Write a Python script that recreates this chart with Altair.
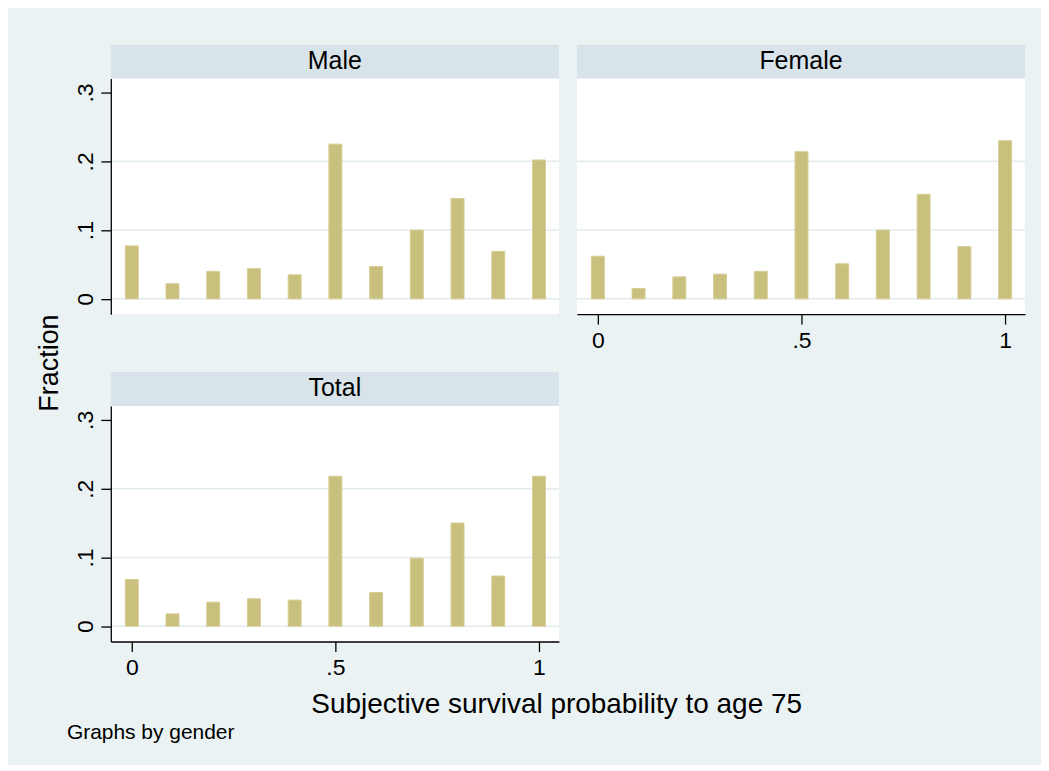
import altair as alt
import pandas as pd

# ---- data ----
probs = [0.0, 0.1, 0.2, 0.3, 0.4, 0.5, 0.6, 0.7, 0.8, 0.9, 1.0]
male = [0.077, 0.022, 0.040, 0.044, 0.035, 0.225, 0.047, 0.100, 0.146, 0.069, 0.202]
female = [0.062, 0.015, 0.032, 0.036, 0.040, 0.214, 0.051, 0.100, 0.152, 0.076, 0.230]
total = [0.068, 0.018, 0.035, 0.040, 0.038, 0.218, 0.049, 0.099, 0.150, 0.073, 0.218]
panel_names = ["Male", "Female", "Total"]
y_ticks = [0, 0.1, 0.2, 0.3]
grid_vals = [0, 0.1, 0.2]
x_ticks = [0, 0.5, 1]
x_title = "Subjective survival probability to age 75"
y_title = "Fraction"
note = "Graphs by gender"

# ---- style ----
W, H = 449, 236
HEADER = 34
FONT = "Liberation Sans"
BAR = "#cac07e"
BAR_EDGE = "#d6cd96"
BG = "#eaf2f3"
STRIP = "#d9e4ea"
GRID = "#e2ecee"

xscale = alt.Scale(domain=[-0.0515, 1.049], nice=False, zero=False, padding=0)
yscale = alt.Scale(domain=[-0.0222, 0.3203], nice=False, zero=False, padding=0)

common_axis = dict(
    title=None, grid=False, tickSize=10, labelFontSize=23, labelFont=FONT,
    domainColor="black", tickColor="black", labelColor="black",
    domainWidth=1.3, tickWidth=1.3, labelFlush=False, labelOverlap=False,
    zindex=2,
)
x_axis = alt.Axis(
    values=x_ticks, labelPadding=5,
    labelExpr="datum.value == 0 || datum.value == 1 ? format(datum.value, 'd') : '.' + format(datum.value * 10, '.0f')",
    **common_axis,
)
y_axis = alt.Axis(
    values=y_ticks, labelPadding=8, labelAngle=270, labelAlign="center",
    labelBaseline="alphabetic",
    labelExpr="datum.value == 0 ? '0' : '.' + format(datum.value * 10, '.0f')",
    **common_axis,
)


def text_layer(txt, x, y, size, angle=0, align="center", baseline="alphabetic"):
    kw = dict(font=FONT, fontSize=size, color="black", align=align, baseline=baseline)
    if angle:
        kw["angle"] = angle
    return alt.Chart(pd.DataFrame({"t": [txt]})).mark_text(**kw).encode(
        x=alt.value(x), y=alt.value(y), text="t:N"
    )


def panel(name, fracs, show_x, show_y, first=False, extras=()):
    layers = []
    if first:
        frame = alt.Chart(pd.DataFrame({"a": [0]})).mark_rect(fill=BG).encode(
            x=alt.value(-102), x2=alt.value(931), y=alt.value(-69), y2=alt.value(686)
        )
        layers.append(frame)
    plot_bg = alt.Chart(pd.DataFrame({"a": [0]})).mark_rect(fill="white").encode(
        x=alt.value(0), x2=alt.value(W), y=alt.value(0), y2=alt.value(H)
    )
    strip = alt.Chart(pd.DataFrame({"a": [0]})).mark_rect(fill=STRIP).encode(
        x=alt.value(0), x2=alt.value(W), y=alt.value(-HEADER), y2=alt.value(0)
    )
    strip_text = text_layer(name, W / 2, -9.5, 25)
    yax = y_axis if show_y else None
    xax = x_axis if show_x else None
    grid = alt.Chart(pd.DataFrame({"g": grid_vals})).mark_rule(
        color=GRID, strokeWidth=1.5
    ).encode(y=alt.Y("g:Q", scale=yscale, axis=yax))
    bars = alt.Chart(pd.DataFrame({"p": probs, "f": fracs})).mark_bar(
        size=13, fill=BAR, stroke=BAR_EDGE, strokeWidth=1
    ).encode(
        x=alt.X("p:Q", scale=xscale, axis=xax),
        y=alt.Y("f:Q", scale=yscale, axis=yax),
        y2=alt.datum(0),
    )
    layers += [plot_bg, strip, strip_text, grid, bars]
    layers += list(extras)
    return alt.layer(*layers).properties(width=W, height=H)


male_p = panel(
    panel_names[0], male, show_x=False, show_y=True, first=True,
    extras=[text_layer(y_title, -53, 285, 27, angle=270)],
)
female_p = panel(panel_names[1], female, show_x=True, show_y=False)
total_p = panel(
    panel_names[2], total, show_x=True, show_y=True,
    extras=[
        text_layer(x_title, 446.7, 308, 28),
        text_layer(note, -44, 334, 21, align="left"),
    ],
)

chart = alt.concat(
    male_p, female_p, total_p, columns=2,
    spacing={"row": 92, "column": 18}, bounds="flush",
).properties(padding=0, background=BG).configure_view(stroke="transparent")

chart.save("out.html", embed_options={"renderer": "svg", "actions": False})
